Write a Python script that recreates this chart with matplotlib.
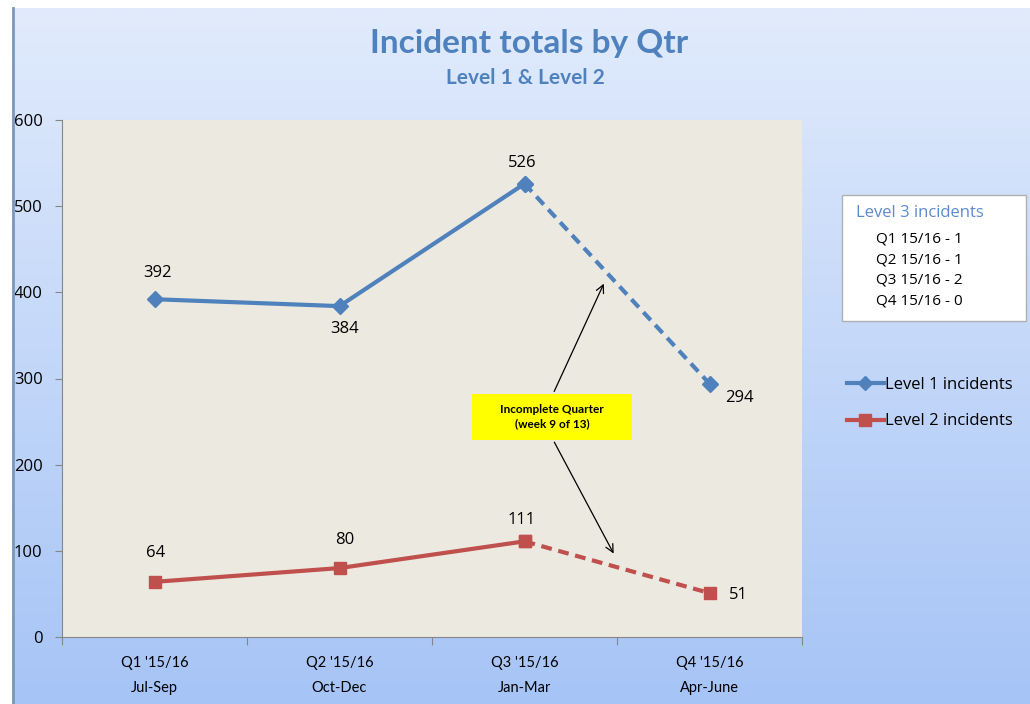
import numpy as np
import matplotlib
matplotlib.use("Agg")
import matplotlib.pyplot as plt
from matplotlib.patches import Rectangle
from matplotlib.lines import Line2D

# ─── data ────────────────────────────────────────────────────────────────
quarters = ["Q1 '15/16\nJul-Sep", "Q2 '15/16\nOct-Dec",
            "Q3 '15/16\nJan-Mar", "Q4 '15/16\nApr-June"]
level1 = [392, 384, 526, 294]
level2 = [64, 80, 111, 51]
level3_lines = ["Q1 15/16 - 1", "Q2 15/16 - 1", "Q3 15/16 - 2", "Q4 15/16 - 0"]

# label offsets in pixels (dx, dy; +dy is up)
l1_offsets = [(3, 26), (5, -23), (-2, 21), (30, -14)]
l2_offsets = [(1, 29), (5, 28), (-3, 21), (29, -2)]

BLUE = "#4f81bd"
RED = "#c0504d"
W, H = 1030, 704
NUMFONT = ["Open Sans", "DejaVu Sans"]

plt.rcParams["font.family"] = ["Lato", "DejaVu Sans"]

fig = plt.figure(figsize=(W / 100, H / 100), dpi=100)
fig.patch.set_facecolor("white")

# gradient backdrop of the chart area
bg = fig.add_axes([12 / W, 0, 1 - 12 / W, (H - 8) / H], zorder=-10)
grad = np.linspace(0, 1, 256)[:, None]
top = np.array([0xe1, 0xeb, 0xfc]) / 255
bot = np.array([0xa6, 0xc4, 0xf6]) / 255
img = top + (bot - top) * grad[..., None]
bg.imshow(img, aspect="auto", extent=[0, 1, 0, 1])
bg.set_axis_off()
fig.add_artist(Line2D([13 / W, 13 / W], [0, (H - 8) / H], color="#7d97bd", lw=2))

ax = fig.add_axes([62 / W, (H - 637) / H, 740 / W, 517 / H])
ax.set_facecolor("#eceae0")
x = np.arange(len(quarters))

lw = 3
ax.plot(x[:3], level1[:3], color=BLUE, lw=lw, marker="D", ms=8, zorder=3)
ax.plot(x[2:], level1[2:], color=BLUE, lw=lw, ls=(0, (2.6, 1.6)), marker="D", ms=8, zorder=3)
ax.plot(x[:3], level2[:3], color=RED, lw=lw, marker="s", ms=9, zorder=3)
ax.plot(x[2:], level2[2:], color=RED, lw=lw, ls=(0, (2.6, 1.6)), marker="s", ms=9, zorder=3)

for xi, v, (dx, dy) in zip(x, level1, l1_offsets):
    ax.annotate(str(v), (xi, v), xytext=(dx * 0.72, dy * 0.72), textcoords="offset points",
                ha="center", va="center", fontsize=12, family=NUMFONT)
for xi, v, (dx, dy) in zip(x, level2, l2_offsets):
    ax.annotate(str(v), (xi, v), xytext=(dx * 0.72, dy * 0.72), textcoords="offset points",
                ha="center", va="center", fontsize=12, family=NUMFONT)

ax.set_xlim(-0.5, len(quarters) - 0.5)
ax.set_ylim(0, 600)
ax.set_yticks(range(0, 601, 100))
ax.set_xticks(np.arange(-0.5, len(quarters), 1.0))
ax.set_xticklabels([])
ax.set_xticks(x, minor=True)
ax.set_xticklabels(quarters, minor=True, fontsize=10.5, linespacing=1.95)
ax.tick_params(axis="x", which="major", length=6, color="#868686")
ax.tick_params(axis="x", which="minor", length=0, pad=14)
ax.tick_params(axis="y", length=5, color="#868686", labelsize=12, pad=9)
for lab in ax.get_yticklabels():
    lab.set_family(NUMFONT)
for s in ("top", "right"):
    ax.spines[s].set_visible(False)
for s in ("left", "bottom"):
    ax.spines[s].set_color("#868686")

# incomplete quarter callout
ax.add_patch(Rectangle((1.716, 229), 0.865, 53, facecolor="#ffff00", edgecolor="none", zorder=4))
ax.text(2.149, 255.5, "Incomplete Quarter\n(week 9 of 13)", ha="center", va="center",
        fontsize=8.5, fontweight="bold", zorder=5, linespacing=1.3)
ax.annotate("", xy=(2.435, 413), xytext=(2.154, 282),
            arrowprops=dict(arrowstyle="->", color="black", lw=0.9, mutation_scale=14), zorder=4)
ax.annotate("", xy=(2.489, 94), xytext=(2.154, 229),
            arrowprops=dict(arrowstyle="->", color="black", lw=0.9, mutation_scale=14), zorder=4)

# titles
fig.text(529 / W, 1 - 43 / H, "Incident totals by Qtr", ha="center", va="center",
         fontsize=24, fontweight="bold", color=BLUE)
fig.text(525 / W, 1 - 78 / H, "Level 1 & Level 2", ha="center", va="center",
         fontsize=15, fontweight="bold", color=BLUE)

# level 3 box
fig.add_artist(Rectangle((842 / W, 1 - 321 / H), 184 / W, 126 / H, transform=fig.transFigure,
                         facecolor="white", edgecolor="#b0b0b0", lw=1))
fig.text(856 / W, 1 - 213 / H, "Level 3 incidents", ha="left", va="center",
         fontsize=12, color="#5b8ad0", family=NUMFONT)
for i, t in enumerate(level3_lines):
    fig.text(876 / W, 1 - (239 + i * 20.7) / H, t, ha="left", va="center", fontsize=11,
             family=NUMFONT)

handles = [Line2D([], [], color=BLUE, lw=lw, marker="D", ms=7),
           Line2D([], [], color=RED, lw=lw, marker="s", ms=8)]
fig.legend(handles, ["Level 1 incidents", "Level 2 incidents"], loc="center left",
           bbox_to_anchor=(832 / W, 1 - 403 / H), frameon=False, handlelength=2.2,
           handletextpad=0.1, labelspacing=1.25,
           prop={"family": NUMFONT, "size": 12})

fig.savefig("out.png", dpi=100)
